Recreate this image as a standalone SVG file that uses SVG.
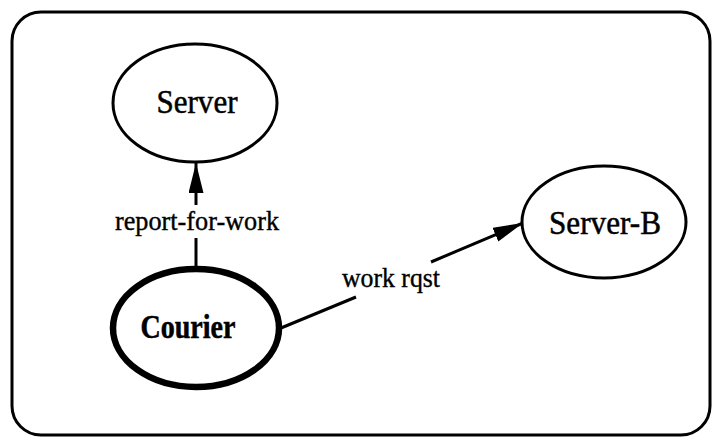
<svg xmlns="http://www.w3.org/2000/svg" width="716" height="440" viewBox="0 0 716 440">
  <style>
    .frame { fill: #ffffff; stroke: #000000; stroke-width: 3; }
    .node { fill: #ffffff; stroke: #000000; stroke-width: 3; }
    .node-main { fill: #ffffff; stroke: #000000; stroke-width: 6.5; }
    .label { font-family: "Liberation Serif", "Times New Roman", serif; font-size: 33px; fill: #000000; stroke: #000000; stroke-width: 0.5; text-anchor: middle; }
    .label-bold { font-weight: bold; font-size: 33px; }
    .edge { stroke: #000000; stroke-width: 3; fill: none; }
    .edge-text { font-family: "Liberation Serif", "Times New Roman", serif; font-size: 28px; fill: #000000; stroke: #000000; stroke-width: 0.4; text-anchor: middle; }
  </style>
  <defs>
    <marker id="arrow" viewBox="0 0 30 15" refX="30" refY="7.5" markerWidth="30" markerHeight="15" markerUnits="userSpaceOnUse" orient="auto">
      <path d="M0,0 L30,7.5 L0,15 Z" fill="#000000"/>
    </marker>
  </defs>

  <!-- outer frame -->
  <rect class="frame" x="12" y="12" width="698" height="423" rx="29" ry="29"/>

  <!-- connectors -->
  <g id="connectors">
    <g id="edge-report-for-work">
      <line class="edge" x1="196" y1="268" x2="196" y2="238"/>
      <line class="edge" x1="196" y1="205" x2="196" y2="163" marker-end="url(#arrow)"/>
      <text class="edge-text" x="197" y="230" textLength="164" lengthAdjust="spacingAndGlyphs">report-for-work</text>
    </g>
    <g id="edge-work-rqst">
      <line class="edge" x1="281" y1="328" x2="356" y2="297"/>
      <line class="edge" x1="431" y1="262" x2="523" y2="223" marker-end="url(#arrow)"/>
      <text class="edge-text" x="391" y="287" textLength="98" lengthAdjust="spacingAndGlyphs">work rqst</text>
    </g>
  </g>

  <!-- nodes -->
  <g id="node-server">
    <ellipse class="node" cx="195" cy="103" rx="82" ry="59"/>
    <text class="label" x="197" y="113" textLength="81" lengthAdjust="spacingAndGlyphs">Server</text>
  </g>
  <g id="node-courier">
    <ellipse class="node-main" cx="196" cy="328" rx="83" ry="59"/>
    <text class="label label-bold" x="188" y="338" textLength="95" lengthAdjust="spacingAndGlyphs">Courier</text>
  </g>
  <g id="node-server-b">
    <ellipse class="node" cx="604" cy="222" rx="82" ry="56"/>
    <text class="label" x="605" y="234" textLength="112" lengthAdjust="spacingAndGlyphs">Server-B</text>
  </g>
</svg>
